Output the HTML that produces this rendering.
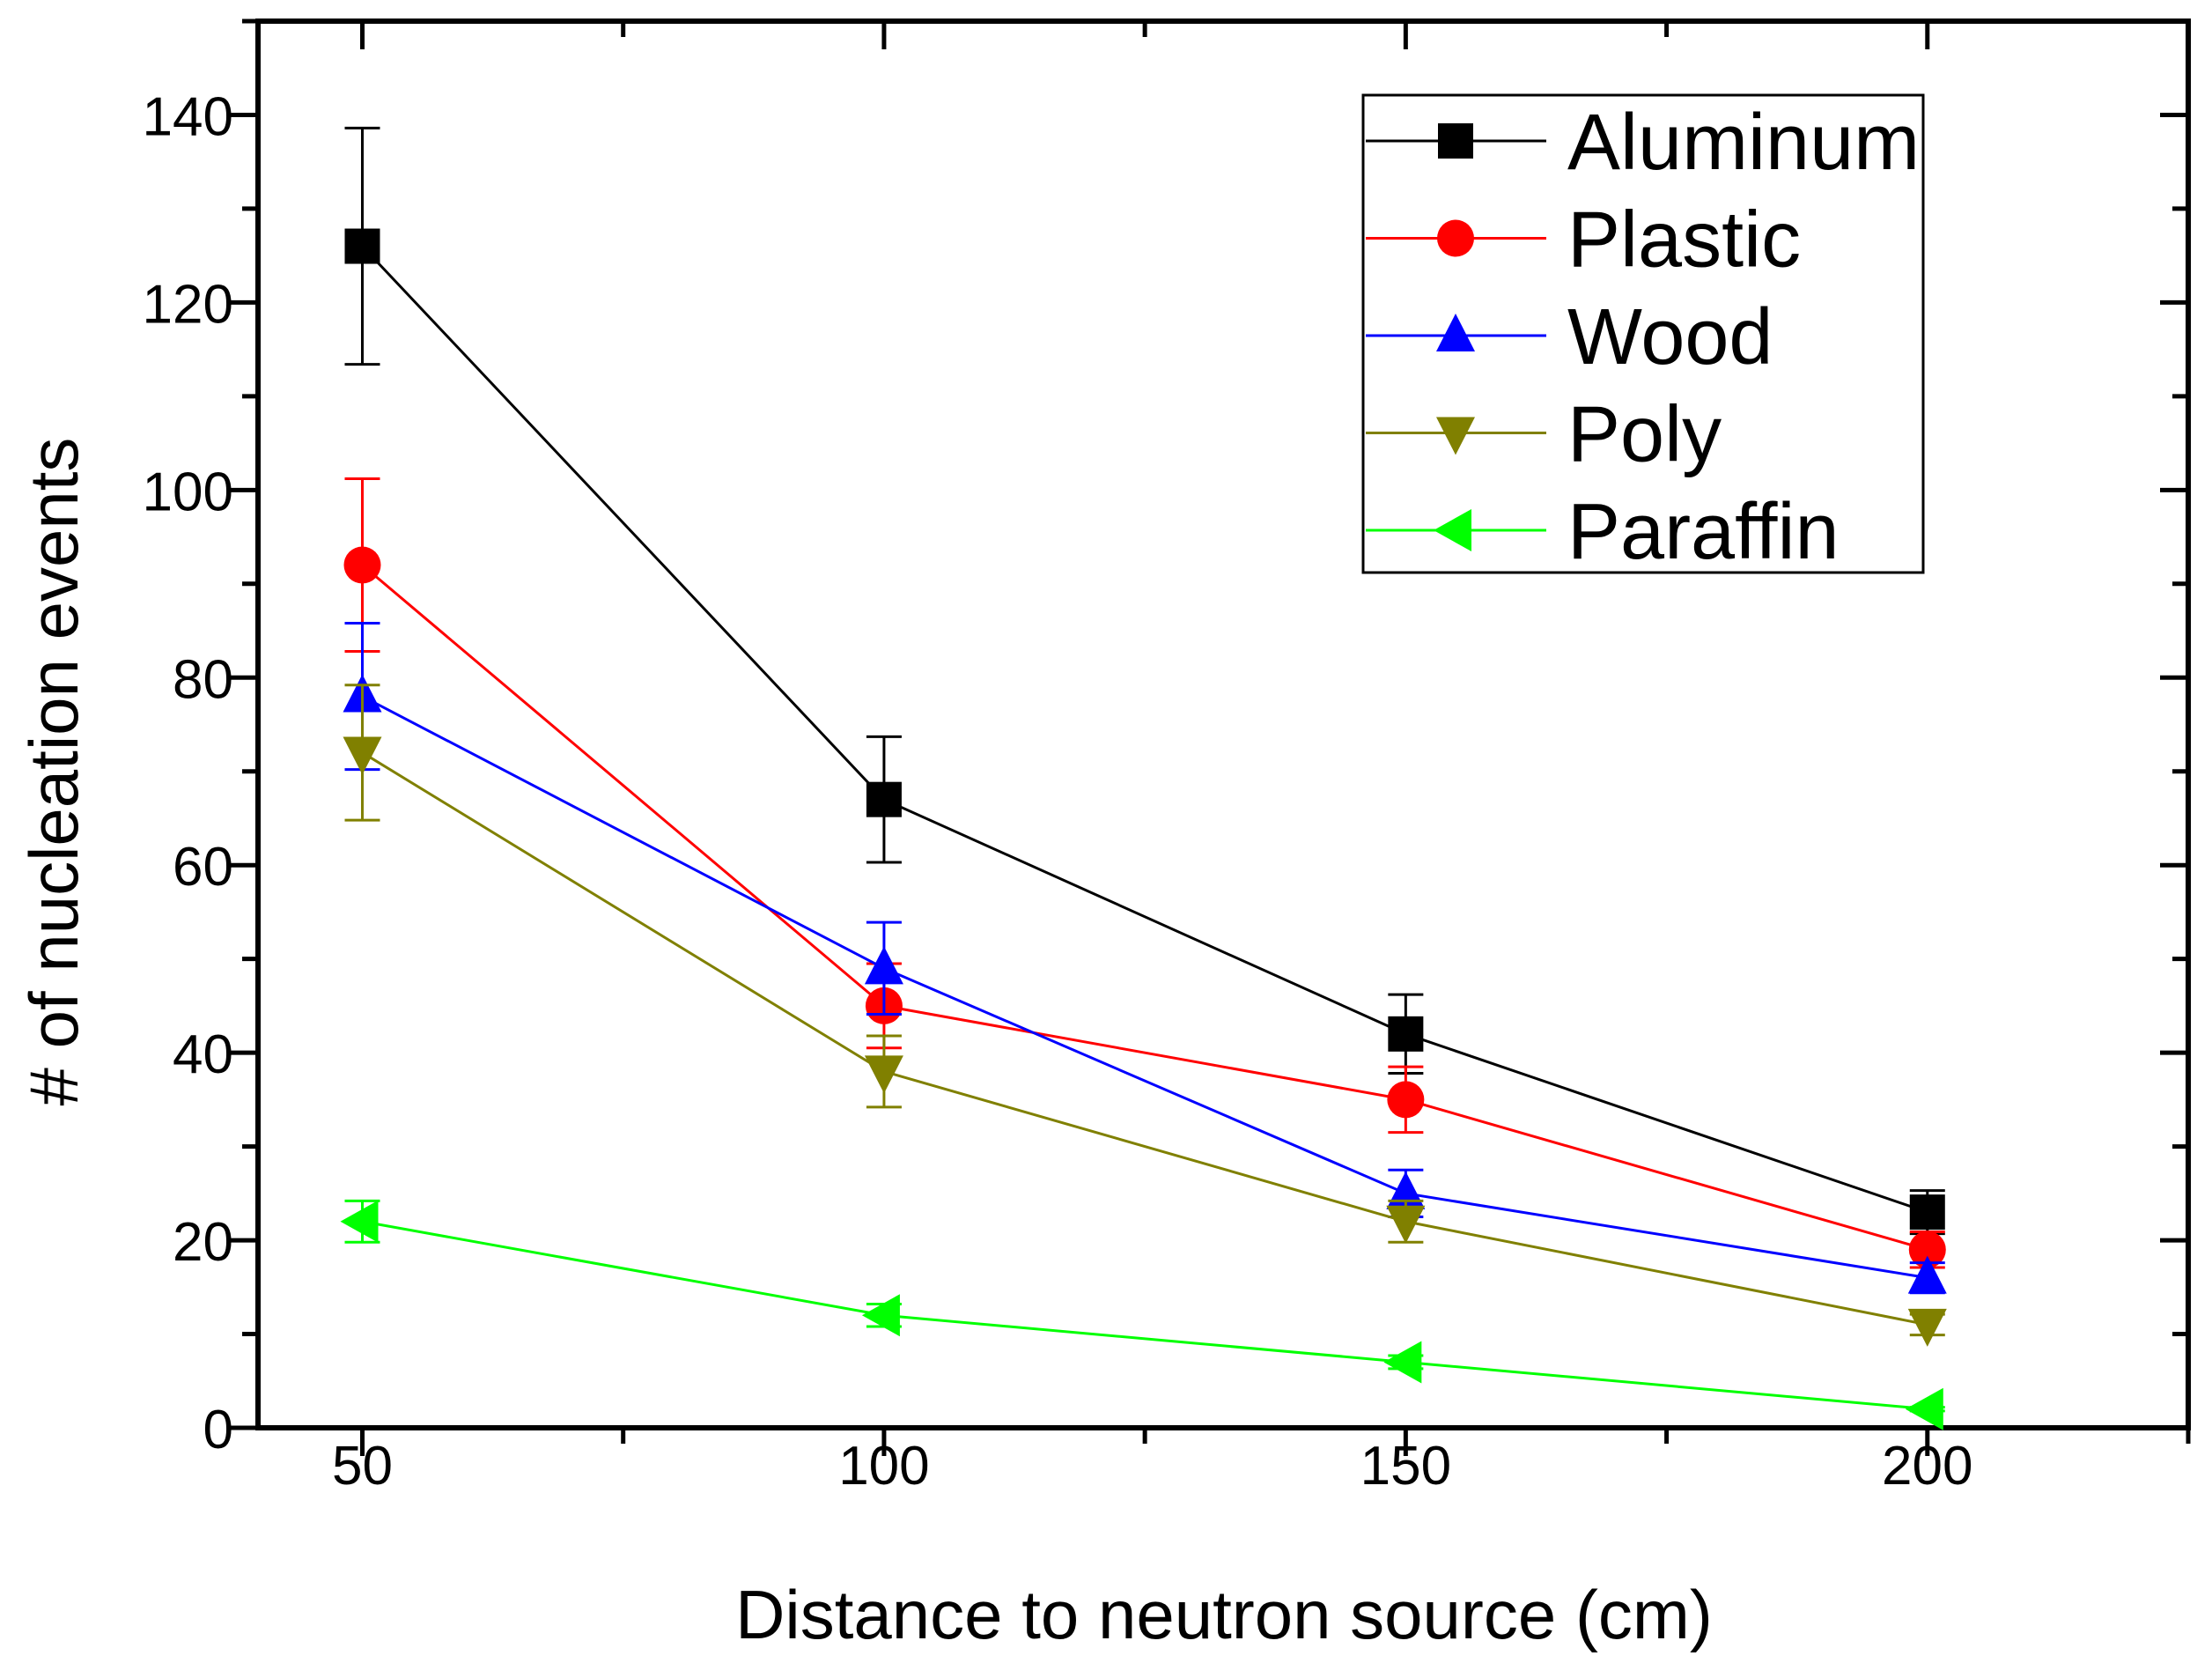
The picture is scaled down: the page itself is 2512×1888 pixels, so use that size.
<!DOCTYPE html>
<html><head><meta charset="utf-8"><style>
html,body{margin:0;padding:0;background:#fff;}
svg{display:block;font-family:"Liberation Sans",Arial,sans-serif;}
</style></head><body>
<svg id="chart" width="2512" height="1888" viewBox="0 0 2512 1888" xmlns="http://www.w3.org/2000/svg">
<g id="axes"></g>
<g id="series"></g>
<g id="legend"></g>
<text x="1390" y="1860" font-size="78" text-anchor="middle">Distance to neutron source (cm)</text>
<text x="0" y="0" font-size="78" text-anchor="middle" transform="translate(88,876) rotate(-90)"># of nucleation events</text>
</svg>
<script>
const xCats = [50, 100, 150, 200];
const seriesNames = ["Aluminum", "Plastic", "Wood", "Poly", "Paraffin"];
const aluminum = [126, 67, 42, 23];
const plastic = [92, 45, 35, 19];
const wood = [78, 49, 25, 16];
const poly = [72, 38, 22, 11];
const paraffin = [22, 12, 7, 2];
const aluminumErr = [12.6, 6.7, 4.2, 2.3];
const plasticErr = [9.2, 4.5, 3.5, 1.9];
const woodErr = [7.8, 4.9, 2.5, 1.6];
const polyErr = [7.2, 3.8, 2.2, 1.1];
const paraffinErr = [2.2, 1.2, 0.7, 0.2];
const xTicks = [50, 100, 150, 200];
const yTicks = [0, 20, 40, 60, 80, 100, 120, 140];

const NS = "http://www.w3.org/2000/svg";
const L = 293, R = 2485, T = 24, B = 1621;
const xMin = 40, xMax = 225, yMin = 0, yMax = 150;
function sx(v){ return L + (v - xMin) / (xMax - xMin) * (R - L); }
function sy(v){ return B - (v - yMin) / (yMax - yMin) * (B - T); }
function mk(tag, attrs, parent){
  const e = document.createElementNS(NS, tag);
  for (const k in attrs) e.setAttribute(k, attrs[k]);
  parent.appendChild(e);
  return e;
}
const axes = document.getElementById('axes');
const frame = mk('rect', {x:L, y:T, width:R-L, height:B-T, fill:'none', stroke:'#000', 'stroke-width':6}, axes);


for (let v = 50; v <= 225; v += 25) {
  const major = xTicks.includes(v);
  const len = major ? 32 : 18;
  const t = mk('line', {x1:sx(v), x2:sx(v), y1:B, y2:B+len, stroke:'#000', 'stroke-width':5}, axes);
  
  
  const t2 = mk('line', {x1:sx(v), x2:sx(v), y1:T, y2:T+len, stroke:'#000', 'stroke-width':5}, axes);
  
  
}
xTicks.forEach(v => {
  const tx = mk('text', {x:sx(v), y:B+64, 'font-size':62, 'text-anchor':'middle'}, axes);
  tx.textContent = v;
  
  
});
for (let v = 0; v <= 150; v += 10) {
  const major = v % 20 === 0 && v <= 140;
  const len = major ? 32 : 18;
  const t = mk('line', {x1:L-len, x2:L, y1:sy(v), y2:sy(v), stroke:'#000', 'stroke-width':5}, axes);
  
  
  const t2 = mk('line', {x1:R-len, x2:R, y1:sy(v), y2:sy(v), stroke:'#000', 'stroke-width':5}, axes);
  
  
}
yTicks.forEach(v => {
  const tx = mk('text', {x:L-28, y:sy(v)+23, 'font-size':62, 'text-anchor':'end'}, axes);
  tx.textContent = v;
  
  
});

const colors = ['#000000', '#ff0000', '#0000ff', '#808000', '#00ff00'];
const shapes = ['square', 'circle', 'up', 'down', 'left'];
const allVals = [aluminum, plastic, wood, poly, paraffin];
const allErr = [aluminumErr, plasticErr, woodErr, polyErr, paraffinErr];
function marker(shape, cx, cy, color, parent){
  let e;
  const s = 20;
  if (shape === 'square') e = mk('rect', {x:cx-s, y:cy-s, width:2*s, height:2*s, fill:color}, parent);
  else if (shape === 'circle') e = mk('circle', {cx:cx, cy:cy, r:21, fill:color}, parent);
  else if (shape === 'up') e = mk('polygon', {points:`${cx},${cy-25} ${cx+22},${cy+18} ${cx-22},${cy+18}`, fill:color}, parent);
  else if (shape === 'down') e = mk('polygon', {points:`${cx},${cy+25} ${cx+22},${cy-18} ${cx-22},${cy-18}`, fill:color}, parent);
  else e = mk('polygon', {points:`${cx-25},${cy} ${cx+18},${cy-24} ${cx+18},${cy+24}`, fill:color}, parent);
  return e;
}
const sg = document.getElementById('series');
allVals.forEach((vals, si) => {
  const g = mk('g', {}, sg);
  
  
  const pts = vals.map((v, i) => sx(xCats[i]) + ',' + sy(v)).join(' ');
  const pl = mk('polyline', {points:pts, fill:'none', stroke:colors[si], 'stroke-width':3}, g);
  
  
  vals.forEach((v, i) => {
    const x = sx(xCats[i]), e = allErr[si][i];
    const y1 = sy(v + e), y2 = sy(v - e);
    const eb = mk('path', {d:`M${x},${y1}V${y2}M${x-20},${y1}H${x+20}M${x-20},${y2}H${x+20}`, stroke:colors[si], 'stroke-width':3, fill:'none'}, g);
    
    
    const m = marker(shapes[si], x, sy(v), colors[si], g);
    
    
  });
});

const lg = document.getElementById('legend');
const box = mk('rect', {x:1548, y:108, width:636, height:542, fill:'#fff', stroke:'#000', 'stroke-width':3}, lg);


seriesNames.forEach((n, i) => {
  const y = 160 + i * 110.5;
  const g = mk('g', {}, lg);
  
  
  mk('line', {x1:1551, x2:1756, y1:y, y2:y, stroke:colors[i], 'stroke-width':3}, g);
  marker(shapes[i], 1653, y, colors[i], g);
  const t = mk('text', {x:1780, y:y+32, 'font-size':90}, g);
  t.textContent = n;
  
  
});
</script>
</body></html>
